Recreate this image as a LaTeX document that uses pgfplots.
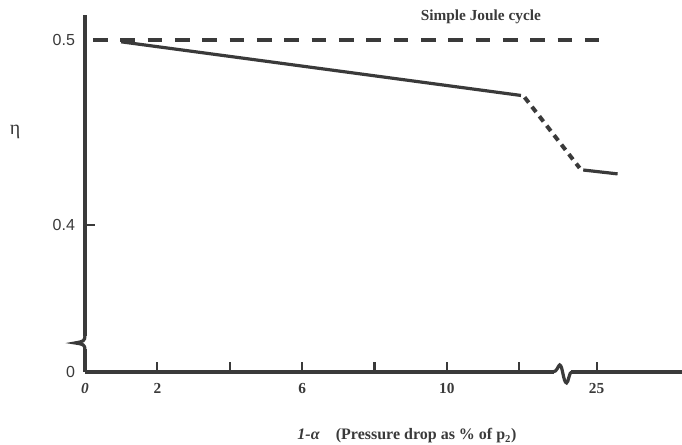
\documentclass[border=0pt]{standalone}
\usepackage{fontspec}
\setmainfont{Liberation Serif}
\newfontfamily\numfont{Liberation Sans}
\usepackage{pgfplots}
\pgfplotsset{compat=1.18}
\definecolor{ink}{HTML}{3A3A3A}

\begin{document}
\begin{tikzpicture}
\begin{axis}[
  scale only axis, width=447.75pt, height=267.75pt,
  xmin=0, xmax=16.5, ymin=0.3205, ymax=0.5135,
  clip=false,
  axis lines=left,
  axis line style={ink, line width=2.6pt, -},
  tick align=inside,
  major tick length=7.5pt,
  tick style={ink, line width=1.6pt},
  /pgf/number format/assume math mode=true,
  xtick={2,4,6,8,10,12,14.14},
  xticklabels={2,,6,,10,,25},
  ytick={0.4},
  yticklabels={0.4},
  extra x ticks={0},
  extra x tick labels={\textit{0}},
  extra y ticks={0.3205,0.5},
  extra y tick labels={0,0.5},
  extra tick style={major tick length=0pt},
  xticklabel style={font=\bfseries\fontsize{11.5}{13}\selectfont, text=ink, yshift=-5pt},
  yticklabel style={font=\numfont\fontsize{12}{14}\selectfont, text=ink, xshift=-4pt},
]
% efficiency with pressure loss
\addplot[ink, line width=2.4pt] coordinates {(1.0,0.499) (12.05,0.470)};
\addplot[ink, line width=3pt, dash pattern=on 5pt off 4pt] coordinates {(12.15,0.469) (13.67,0.4308)};
\addplot[ink, line width=2.4pt] coordinates {(13.77,0.4297) (14.72,0.4276)};
% ideal simple cycle
\addplot[ink, line width=2.4pt, dash pattern=on 11pt off 9.5pt] coordinates {(0.22,0.5) (14.2,0.5)};

% axis breaks
\fill[white] (axis cs:-0.1,0.3330) rectangle (axis cs:0.1,0.3400);
\draw[ink, line width=2.4pt] (axis cs:0,0.3405) .. controls (axis cs:0,0.3370) and (axis cs:-0.05,0.3370) .. (axis cs:-0.276,0.3362)
   .. controls (axis cs:-0.05,0.3355) and (axis cs:0,0.3355) .. (axis cs:0,0.3322);
\fill[white] (axis cs:12.95,0.3190) rectangle (axis cs:13.43,0.3220);
\draw[ink, line width=2.4pt] (axis cs:12.93,0.3205) .. controls (axis cs:13.05,0.3205) and (axis cs:13.08,0.3243) .. (axis cs:13.12,0.3243)
   .. controls (axis cs:13.2,0.3243) and (axis cs:13.22,0.3146) .. (axis cs:13.31,0.3146)
   .. controls (axis cs:13.36,0.3146) and (axis cs:13.38,0.3205) .. (axis cs:13.45,0.3205);

\node[text=ink, font=\bfseries\fontsize{11.5}{13}\selectfont] at (axis cs:10.94,0.5125) {Simple Joule cycle};
\node[text=ink, font=\fontsize{15}{17}\selectfont] at (axis cs:-1.93,0.4503) {η};
\node[text=ink, font=\bfseries\fontsize{12}{14}\selectfont, anchor=base] at ([yshift=-51pt]axis cs:8.9,0.3205)
  {\textit{1-α}\quad(Pressure drop as \% of p\textsubscript{2})};

\coordinate (ll) at (rel axis cs:0,0);
\coordinate (ur) at (rel axis cs:1,1);
\end{axis}
\pgfresetboundingbox
\path[use as bounding box] ([xshift=-63.75pt,yshift=-54.75pt]ll) rectangle ([yshift=11.25pt]ur);
\end{tikzpicture}
\end{document}
